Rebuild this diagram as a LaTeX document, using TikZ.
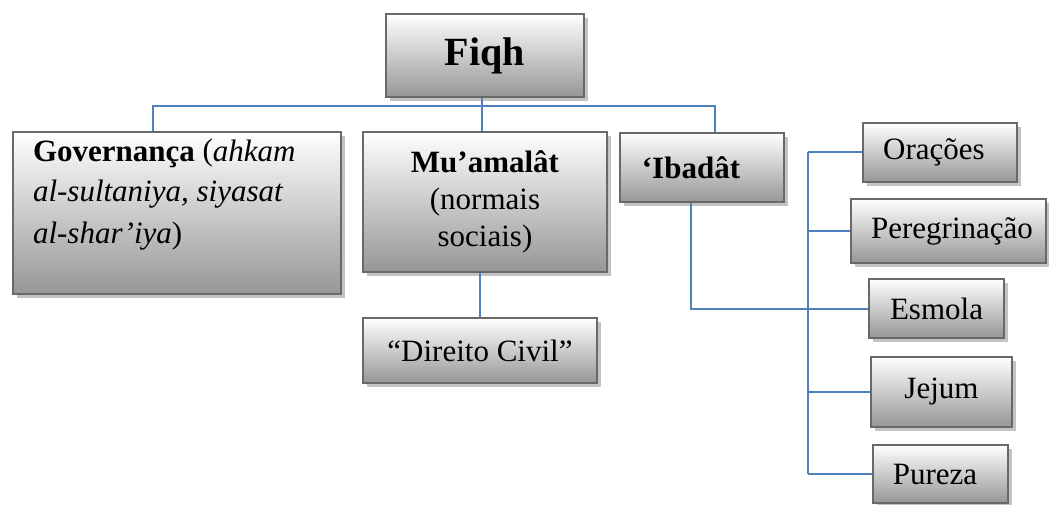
\documentclass[tikz,border=0pt]{standalone}
\usepackage{fontspec}
\setmainfont{Liberation Serif}
\usetikzlibrary{shadows}
\definecolor{conn}{RGB}{79,129,189}
\definecolor{bord}{RGB}{105,105,105}
\definecolor{shadebot}{RGB}{150,150,150}
\definecolor{shad}{RGB}{195,195,195}
\tikzset{
  wbox/.style={draw=bord, line width=2.2pt, top color=white, bottom color=shadebot,
    inner sep=0pt, general shadow={fill=shad, shadow xshift=3.5pt, shadow yshift=-4pt},
    font=\fontsize{31}{37}\selectfont},
  link/.style={draw=conn, line width=2pt}
}
\begin{document}
\begin{tikzpicture}[x=1pt,y=-1pt]
\useasboundingbox (0,0) rectangle (1049,505);
% boxes
\node[wbox, minimum width=198pt, minimum height=83pt, font=\bfseries\fontsize{40}{48}\selectfont] (fiqh) at (485,55.5) {Fiqh};
\node[wbox, minimum width=328pt, minimum height=162pt] (gov) at (177,213)
  {\parbox[c][162pt][t]{328pt}{\leftskip=20pt \fontsize{31}{41}\selectfont\rule{0pt}{29pt}\textbf{Governança} (\textit{ahkam}\\ \textit{al-sultaniya, siyasat}\\ \textit{al-shar’iya})}};
\node[wbox, minimum width=244pt, minimum height=140pt, align=center] (mu) at (485,202)
  {\textbf{Mu’amalât}\\(normais\\sociais)};
\node[wbox, minimum width=234pt, minimum height=65pt] (dc) at (480,350.5) {“Direito Civil”};
\node[wbox, minimum width=164pt, minimum height=69pt] (ibad) at (702,167.5) {\textbf{‘Ibadât}\hspace*{22pt}};
\node[wbox, minimum width=154pt, minimum height=59pt] (orac) at (940,152.5) {Orações\hspace*{12pt}};
\node[wbox, minimum width=195pt, minimum height=64pt] (pere) at (948.5,231) {\hspace*{7pt}Peregrinação};
\node[wbox, minimum width=135pt, minimum height=59pt] (esm) at (936.5,308.5) {Esmola};
\node[wbox, minimum width=141pt, minimum height=70pt] (jej) at (941.5,392) {Jejum};
\node[wbox, minimum width=135pt, minimum height=58pt] (pur) at (940.5,474) {Pureza\hspace*{11pt}};
% connectors
\coordinate (bus) at (482,106);
\coordinate (gx) at (153,106);
\coordinate (rx) at (715,106);
\coordinate (ix) at (691,0);
\coordinate (sp) at (808,0);
\draw[link] (fiqh.south -| bus) -- (bus);
\draw[link] (gx |- gov.north) -- (gx) -- (rx) -- (rx |- ibad.north);
\draw[link] (bus) -- (bus |- mu.north);
\draw[link] (dc.north) -- (dc.north |- mu.south);
\draw[link] (ix |- ibad.south) |- (esm.west);
\draw[link] (sp |- orac.west) -- (sp |- pur.west);
\foreach \n in {orac,pere,esm,jej,pur} \draw[link] (sp |- \n.west) -- (\n.west);
\end{tikzpicture}
\end{document}
